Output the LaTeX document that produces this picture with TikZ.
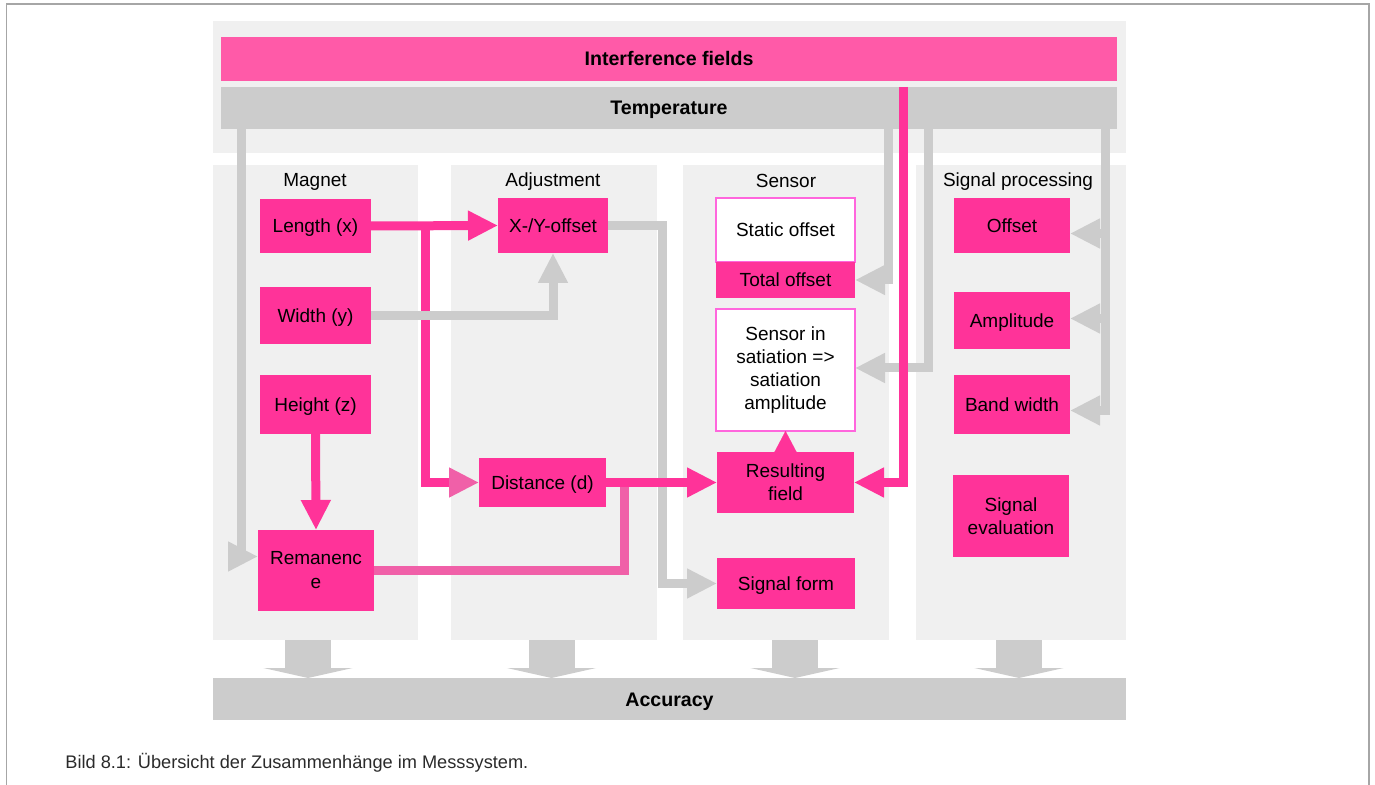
\documentclass[tikz,border=0pt]{standalone}
\usepackage{fontspec}
\setmainfont{Liberation Sans}
\usetikzlibrary{arrows.meta,calc}
\definecolor{pk}{HTML}{FF3399}
\definecolor{pkL}{HTML}{F060A8}
\definecolor{pkI}{HTML}{FF5AA8}
\definecolor{pkB}{HTML}{FF66DD}
\definecolor{gr}{HTML}{CCCCCC}
\definecolor{pnl}{HTML}{F0F0F0}
\definecolor{frm}{HTML}{A6A6A6}
\definecolor{capc}{HTML}{2A2A2A}
\begin{document}
\begin{tikzpicture}[x=0.5pt,y=-0.5pt,
  panel/.style={fill=pnl, inner sep=0pt, outer sep=0pt, anchor=north west},
  bx/.style={fill=pk, inner sep=0pt, outer sep=0pt, anchor=north west, align=center, font=\fontsize{9.5}{11.4}\selectfont},
  box/.style={bx, text height=6.8pt, text depth=0pt},
  wbox/.style={fill=white, draw=pkB, line width=0.6pt},
  bar/.style={inner sep=0pt, outer sep=0pt, anchor=north west, text height=7pt, text depth=0pt, font=\bfseries\fontsize{9.8}{12}\selectfont},
  lbl/.style={font=\fontsize{9.5}{11.2}\selectfont, inner sep=0pt, anchor=base},
  pline/.style={draw=pk, line width=4.5pt, -{Triangle[length=15pt,width=14pt]}},
  gline/.style={draw=gr, line width=4.5pt, -{Triangle[length=15pt,width=14pt]}},
  downarr/.style={draw=gr, line width=23pt, -{Triangle[length=5pt,width=44.5pt]}}
]
\useasboundingbox (0,0) rectangle (1375,785);
\draw[frm, line width=0.75pt] (6.5,785) -- (6.5,4) -- (1369,4) -- (1369,785);

% panels
\node[panel, minimum width=456.5pt, minimum height=66pt] (top) at (213,21) {};
\node[panel, minimum width=102.5pt, minimum height=237.5pt] (mp) at (213,165) {};
\node[panel, minimum width=103pt, minimum height=237.5pt] (ap) at (451,165) {};
\node[panel, minimum width=103pt, minimum height=237.5pt] (sp) at (683,165) {};
\node[panel, minimum width=105pt, minimum height=237.5pt] (pp) at (916,165) {};

% bars
\node[bar, fill=pkI, minimum width=448pt, minimum height=22pt] (interf) at (221,37) {Interference fields};
\node[bar, fill=gr, minimum width=448pt, minimum height=21pt] (temp) at (221,87) {Temperature};
\node[bar, fill=gr, minimum width=456.5pt, minimum height=21pt] (acc) at (213,678) {Accuracy};

% column labels
\node[lbl] (lmag) at (315,187) {Magnet};
\node[lbl] (ladj) at (553,187) {Adjustment};
\node[lbl] (lsen) at (786,187.5) {Sensor};
\node[lbl] (lsig) at (1018,187) {Signal processing};

% magnet
\node[box, minimum width=55.5pt, minimum height=27pt] (length) at (260,199) {Length (x)};
\node[box, minimum width=55.5pt, minimum height=28.5pt] (width) at (260,287) {Width (y)};
\node[box, minimum width=55.5pt, minimum height=29.5pt] (height) at (260,375) {Height (z)};
\node[bx, minimum width=58pt, minimum height=40.5pt, font=\fontsize{9.5}{12}\selectfont] (reman) at (258,530) {Remanenc\\e};
% adjustment
\node[box, minimum width=55pt, minimum height=27.5pt] (xyoff) at (498,198) {X-/Y-offset};
\node[box, minimum width=63.5pt, minimum height=24.5pt] (dist) at (479,458) {Distance (d)};
% sensor
\node[box, wbox, minimum width=69.5pt, minimum height=32pt] (static) at (716,198) {Static offset};
\node[box, minimum width=69.5pt, minimum height=18pt] (total) at (716,262) {Total offset};
\node[bx, wbox, minimum width=69.5pt, minimum height=61pt] (satur) at (716,309) {Sensor in\\satiation =>\\satiation\\amplitude};
\node[bx, minimum width=68.5pt, minimum height=30.5pt] (result) at (717,452) {Resulting\\field};
\node[box, minimum width=69pt, minimum height=25.5pt] (sigform) at (717,558) {Signal form};
% signal processing
\node[box, minimum width=58pt, minimum height=27.5pt] (offset) at (954,198) {Offset};
\node[box, minimum width=58pt, minimum height=28.5pt] (ampl) at (954,292) {Amplitude};
\node[box, minimum width=58pt, minimum height=29.5pt] (band) at (954,375) {Band width};
\node[bx, minimum width=58pt, minimum height=41pt] (sigeval) at (953,475) {Signal\\evaluation};

% gray connectors
\coordinate (t1) at (241,129);
\coordinate (t2) at (888,129);
\coordinate (t3) at (928,129);
\coordinate (t4) at (1105,129);
\coordinate (c3) at (662,583.5);
\draw[gline] (t1) |- ($(reman.west)+(0,-14)$);
\draw[gline] (xyoff.east) -| (c3) -- (sigform.west);
\draw[gline] (t2) |- (total.east);
\draw[gline] (t3) |- ($(satur.east)+(0,-2)$);
\draw[gline] (t4) |- ($(band.east)+(0,6)$);
\draw[gline] ($(t4|-offset.east)+(0,8)$) -- ($(offset.east)+(0,8)$);
\draw[gline] ($(t4|-ampl.east)+(0,-2)$) -- ($(ampl.east)+(0,-2)$);

% pink connectors
\coordinate (j1) at (425,226);
\coordinate (j2) at (624,483);
\coordinate (i1) at (903,87);
\draw[pline] (length.east) -- (xyoff.west);
\draw[pline, -{Triangle[length=15pt,width=14pt,color=pkL]}] (j1) |- (dist.west);
\draw[gline] (width.east) -| (xyoff.south);
\draw[pline] (height.south) -- (reman.north);
\draw[draw=pkL, line width=4.5pt] (reman.east) -| (j2);
\draw[pline] (dist.east) -- (result.west);
\draw[pline] (i1) |- (result.east);
\draw[pk, line width=0.1pt, -{Triangle[length=10.5pt,width=11pt]}] (result.north) -- (satur.south);

% arrows to accuracy
\draw[downarr] ($(mp.south)+(-7.5,0)$) -- ($(mp.south)+(-7.5,38)$);
\draw[downarr] ($(ap.south)+(-2.5,0)$) -- ($(ap.south)+(-2.5,38)$);
\draw[downarr] ($(sp.south)+(9,0)$) -- ($(sp.south)+(9,38)$);
\draw[downarr] ($(pp.south)+(-2,0)$) -- ($(pp.south)+(-2,38)$);

% caption
\node[anchor=west, inner sep=0pt, font=\fontsize{9.1}{11}\selectfont, text=capc] (cap) at (65,763) {Bild 8.1: Übersicht der Zusammenhänge im Messsystem.};
\end{tikzpicture}
\end{document}
